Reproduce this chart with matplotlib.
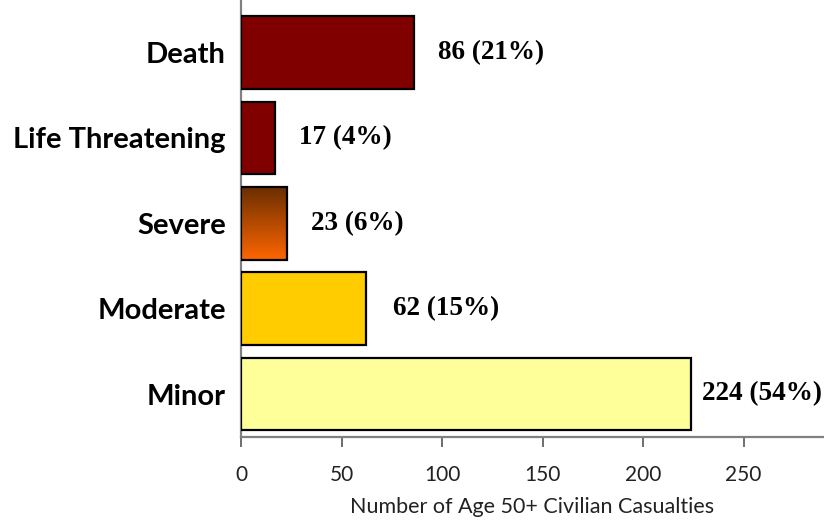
import matplotlib
matplotlib.use("Agg")
import matplotlib.pyplot as plt
import numpy as np
from matplotlib.colors import LinearSegmentedColormap

categories = ["Death", "Life Threatening", "Severe", "Moderate", "Minor"]
counts = [86, 17, 23, 62, 224]
percents = [21, 4, 6, 15, 54]
colors = ["#800000", "#800000", None, "#ffcc00", "#ffff99"]
label_pad = [17, 17, 17, 20, 8]  # points right of bar end
xticks = [0, 50, 100, 150, 200, 250]

fig = plt.figure(figsize=(8.24, 5.2), dpi=100)
ax = fig.add_axes([241 / 824, 83 / 520, 1 - 241 / 824, 437 / 520])

y = np.arange(len(categories))
bars = ax.barh(y, counts, height=0.85, color=[c if c else "none" for c in colors],
               edgecolor="black", linewidth=1.6, zorder=3)

# gradient fill for the Severe bar
grad = LinearSegmentedColormap.from_list("sev", ["#6a2e00", "#ff6600"])
b = bars[2]
x0, y0 = b.get_x(), b.get_y()
w, h = b.get_width(), b.get_height()
img = ax.imshow(np.linspace(0, 1, 256).reshape(-1, 1), cmap=grad, aspect="auto",
                extent=[x0, x0 + w, y0 + h, y0], zorder=2)
img.set_clip_path(b)

for i, (v, p) in enumerate(zip(counts, percents)):
    ax.annotate(f"{v} ({p}%)", (v, i), xytext=(label_pad[i], 0),
                textcoords="offset points", va="center", ha="left",
                fontsize=19.5, fontweight="bold", family="Liberation Serif")

ax.set_xlim(0, 290)
ax.set_ylim(4.503, -0.615)
ax.set_yticks(y)
ax.set_yticklabels(categories, fontsize=21, fontweight="bold", family="Lato")
ax.tick_params(axis="y", length=0, pad=11)
ax.set_xticks(xticks)
ax.tick_params(axis="x", direction="out", length=7, width=1.2, color="#555555",
               labelsize=15, pad=13)
for t in ax.get_xticklabels():
    t.set_family("Lato")
    t.set_color("#222222")
ax.set_xlabel("Number of Age 50+ Civilian Casualties", fontsize=15.5,
              family="Lato", color="#222222", labelpad=9)

for s in ["top", "right"]:
    ax.spines[s].set_visible(False)
for s in ["left", "bottom"]:
    ax.spines[s].set_color("#808080")
    ax.spines[s].set_linewidth(1.6)

fig.savefig("out.png", dpi=100)
